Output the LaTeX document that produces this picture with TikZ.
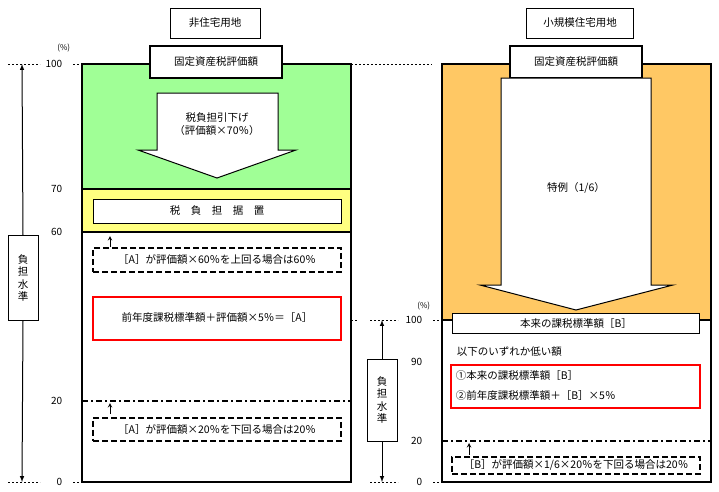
\documentclass[tikz,border=0pt]{standalone}
\usepackage{fontspec}
\setmainfont{Noto Sans CJK JP}
\definecolor{cgreen}{RGB}{160,255,150}
\definecolor{cyellow}{RGB}{255,255,128}
\definecolor{corange}{RGB}{255,200,100}
\begin{document}
\begin{tikzpicture}[x=1pt,y=-1pt,font=\fontsize{10.5}{12.5}\selectfont,line width=1pt,
 box/.style={draw,line width=2pt,fill=white,inner sep=0pt},
 dbox/.style={draw,line width=2pt,dash pattern=on 6pt off 3pt,fill=white,inner sep=0pt},
 rbox/.style={draw=red,line width=2pt,inner sep=0pt},
 lbl/.style={font=\fontsize{10}{11}\selectfont,anchor=east},
 pct/.style={font=\fontsize{8}{9}\selectfont,anchor=east},
 gd/.style={dash pattern=on 2pt off 2pt,line width=0.8pt},
 dd/.style={line width=2pt,dash pattern=on 6pt off 3pt on 2pt off 3pt},
 main/.style={line width=2.2pt}]
\useasboundingbox (0,0) rectangle (719,491);
% left column
\fill[cgreen] (82,64) rectangle (351,189);
\fill[cyellow] (82,189) rectangle (351,232);
\draw[main] (82,64) rectangle (351,482);
\draw[main] (82,189) -- (351,189) (82,232) -- (351,232);
\node[box,line width=1pt,minimum width=90,minimum height=30] (t1) at (215,23) {非住宅用地};
\node[box,minimum width=132,minimum height=32] (h1) at (216,62) {固定資産税評価額};
\draw[fill=white] (157,93) -- (278,93) -- (278,150) -- (296,150) -- (217,178) -- (138,150) -- (157,150) -- cycle;
\node[align=center] (a1) at (217,124) {税負担引下げ\\（評価額×70％）};
\node[box,line width=1pt,minimum width=248,minimum height=24] (s1) at (217,211) {税\quad 負\quad 担\quad 据\quad 置};
\node[dbox,minimum width=248,minimum height=24] (u1) at (217,260) {［A］が評価額×60％を上回る場合は60％};
\draw[->,>=stealth] (110,247) -- (110,236);
\node[rbox,minimum width=248,minimum height=43] (r1) at (217,318) {前年度課税標準額＋評価額×5％＝［A］};
\draw[dd] (82,401) -- (351,401);
\draw[->,>=stealth] (110,414) -- (110,403);
\node[dbox,minimum width=248,minimum height=23] (l1) at (217,429) {［A］が評価額×20％を下回る場合は20％};
% left scale
\node[pct] at (74,48) {(\%)};
\foreach \v/\y in {100/64,70/189,60/232,20/401,0/482} \node[lbl] at (66,\y) {\v};
\draw[gd] (8,64) -- (40,64) (73,64) -- (82,64) (8,482) -- (40,482) (73,482) -- (82,482);
\draw[gd] (351,64) -- (432,64) (351,320) -- (358,320);
\node[box,line width=1pt,minimum width=30,minimum height=85,align=center] (k1) at (23,278) {負\\担\\水\\準};
\draw[-latex] (k1.north) -- (22,64);
\draw[-latex] (k1.south) -- (22,482);
% right column
\fill[corange] (442,64) rectangle (711,320);
\draw[main] (442,64) rectangle (711,482);
\draw[main] (442,320) -- (711,320);
\node[box,line width=1pt,minimum width=107,minimum height=30] (t2) at (580,23) {小規模住宅用地};
\node[box,minimum width=132,minimum height=32] (h2) at (576,62) {固定資産税評価額};
\draw[fill=white] (501,78) -- (651,78) -- (651,285) -- (673,285) -- (576,310) -- (480,285) -- (501,285) -- cycle;
\node (a2) at (576,188) {特例（1/6）};
\node[box,line width=1pt,minimum width=247,minimum height=20] (b2) at (576,323) {本来の課税標準額［B］};
\node[anchor=west] (x2) at (453,352) {以下のいずれか低い額};
\node[rbox,minimum width=249,minimum height=43] (r2) at (575,386) {};
\node[anchor=west] at (452,375) {①本来の課税標準額［B］};
\node[anchor=west] at (452,395) {②前年度課税標準額＋［B］×5％};
\draw[dd] (442,441) -- (711,441);
\draw[->,>=stealth] (469,455) -- (469,443);
\node[dbox,minimum width=248,minimum height=17] (l2) at (576,465) {［B］が評価額×1/6×20％を下回る場合は20％};
\node[pct] at (434,306) {(\%)};
\foreach \v/\y in {100/320,90/362,20/441,0/482} \node[lbl] at (426,\y) {\v};
\draw[gd] (370,320) -- (398,320) (433,320) -- (442,320) (370,482) -- (398,482) (433,482) -- (442,482);
\node[box,line width=1pt,minimum width=30,minimum height=82,align=center] (k2) at (382,400) {負\\担\\水\\準};
\draw[-latex] (k2.north) -- (382,320);
\draw[-latex] (k2.south) -- (382,482);
\end{tikzpicture}
\end{document}
